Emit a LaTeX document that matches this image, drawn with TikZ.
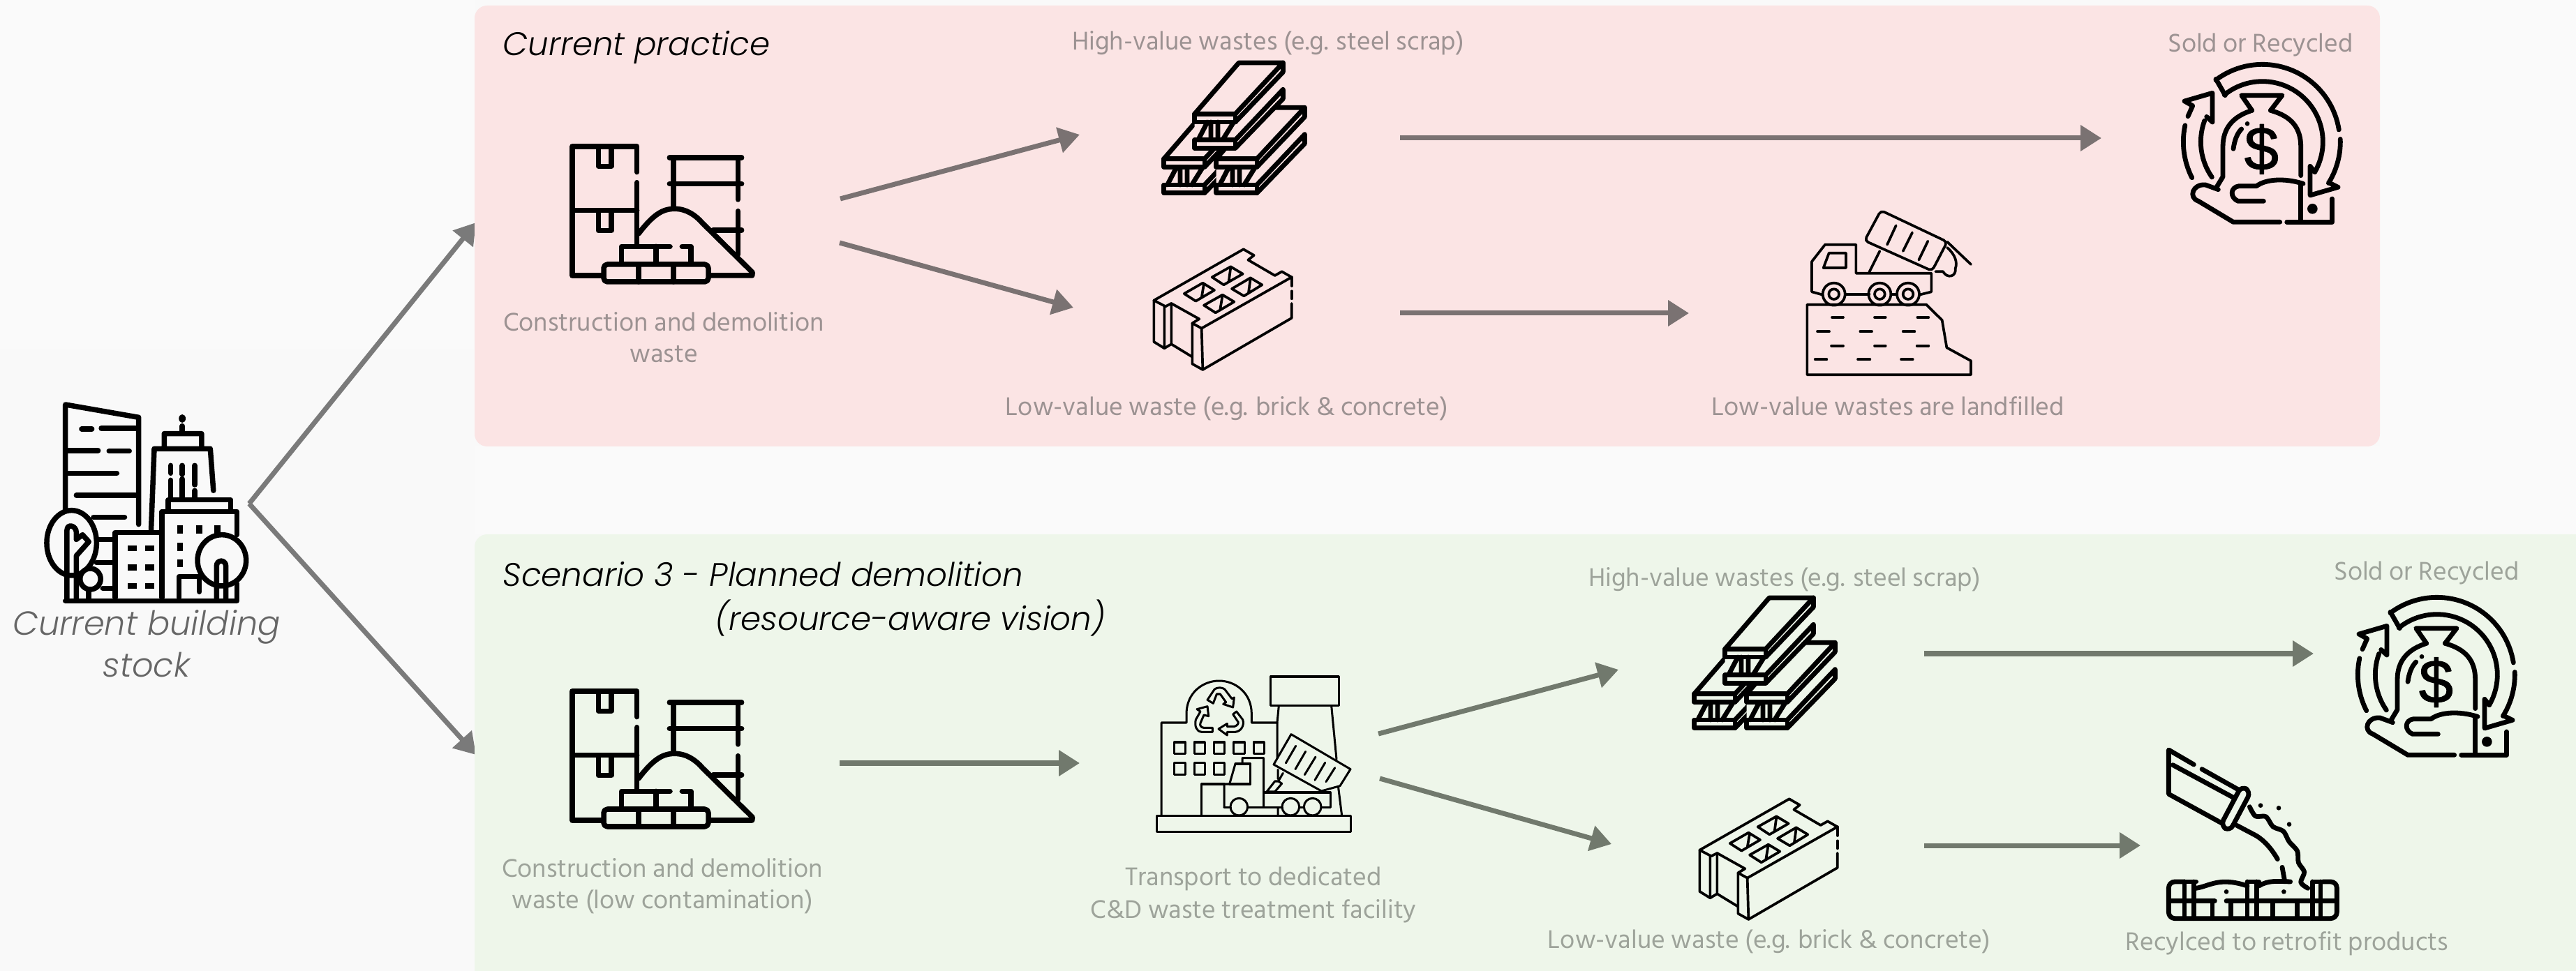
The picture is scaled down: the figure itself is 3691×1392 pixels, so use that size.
\documentclass[tikz,border=0pt]{standalone}
\usepackage{fontspec}
\usetikzlibrary{arrows.meta}
\setmainfont{Hind Siliguri}
\newfontfamily\popfont{Poppins}[UprightFont=* Light,ItalicFont=* Light Italic]
\newfontfamily\dollarfont{Liberation Sans}[FakeBold=1.5]
\definecolor{bgc}{HTML}{F9F9F9}
\definecolor{pinkc}{HTML}{FBE4E4}
\definecolor{greenc}{HTML}{EEF6EA}
\definecolor{arrowp}{HTML}{7A7272}
\definecolor{arrowg}{HTML}{71796D}
\definecolor{textp}{HTML}{9C9292}
\definecolor{textg}{HTML}{9DA39A}
\tikzset{
 lab/.style={font=\fontsize{10.7pt}{12pt}\selectfont,inner sep=0pt,anchor=base},
 labp/.style={lab,text=textp},
 labg/.style={lab,text=textg},
 title/.style={font=\popfont\itshape\fontsize{13.3pt}{16pt}\selectfont,inner sep=0pt,anchor=base west,text=black},
 stocklab/.style={font=\popfont\itshape\fontsize{13.6pt}{17pt}\selectfont,inner sep=0pt,anchor=base,text=black!60},
 flow/.style={line width=0.07cm,-{Triangle[length=0.3cm,width=0.36cm]}},
 ico/.style={line cap=round,line join=round,draw=black},
 w7/.style={ico,line width=0.075cm},
 w6/.style={ico,line width=0.068cm},
 w4/.style={ico,line width=0.037cm},
 w3/.style={ico,line width=0.03cm},
}
\newcommand{\iconcdw}[2]{\begin{scope}[shift={(#1,#2)},xscale=1/3,yscale=1/3,w7]
 \draw (398,200)--(398,90)--(120,90)--(120,645)--(255,645);
 \draw (398,245)--(398,515);
 \draw (120,365)--(398,365);
 \draw (232,95)--(232,175)--(288,175)--(288,95);
 \draw (232,370)--(232,452)--(288,452)--(288,370);
 \draw (538,138)--(848,138) (538,250)--(848,250);
 \draw (555,138)--(555,355) (832,138)--(832,318) (832,368)--(832,555) (725,450)--(848,450);
 \draw (405,465) .. controls (470,380) and (510,358) .. (560,358) .. controls (610,358) and (650,385) .. (680,420) -- (895,632) -- (893,645) -- (710,645);
 \draw[rounded corners=1.5pt] (255,597) rectangle (705,672);
 \draw (405,597)--(405,672) (555,597)--(555,672);
 \draw (332,590)--(332,520)--(540,520) (592,520)--(630,520)--(630,590) (480,520)--(480,590);
\end{scope}}
\newcommand{\ibeam}[3]{\begin{scope}[shift={(#1,#2)}]
 \fill[#3] (0,0)--(190,-220)--(380,-220)--(380,-65)--(175,147)--(0,147)--cycle;
 \draw (0,0)--(190,-220)--(380,-220)--(175,0)--cycle;
 \draw (0,0)--(175,0)--(175,35)--(0,35)--cycle;
 \draw (175,35)--(380,-180)--(380,-220);
 \draw (0,112)--(175,112)--(175,147)--(0,147)--cycle;
 \draw (175,147)--(380,-65)--(380,-105)--(175,112);
 \draw (70,35)--(70,112) (100,35)--(100,112) (15,112)--(55,35) (120,112)--(165,40);
\end{scope}}
\newcommand{\iconbeams}[3]{\begin{scope}[shift={(#1,#2)},xscale=1/3,yscale=1/3,w6]
 \ibeam{143}{503}{#3}\ibeam{368}{503}{#3}\ibeam{275}{310}{#3}
\end{scope}}
\newcommand{\iconblock}[2]{\begin{scope}[shift={(#1,#2)},xscale=1/3,yscale=1/3,w4]
 \draw (100,272)--(485,52)--(530,78)--(505,98)--(620,165)--(650,148)--(692,172)--(305,392)--(265,370)--(295,352)--(175,285)--(150,298)--cycle;
 \draw (230,243)--(310,197)--(360,228)--(280,275)--cycle (315,200)--(305,260);
 \draw (350,172)--(430,127)--(482,158)--(400,205)--cycle (430,130)--(422,190);
 \draw (315,293)--(395,248)--(445,278)--(365,325)--cycle (395,250)--(385,310);
 \draw (435,222)--(515,175)--(565,205)--(487,253)--cycle (515,178)--(507,238);
 \draw (692,172)--(692,210) (692,232)--(692,265);
 \draw (692,285)--(692,348)--(310,570)--(265,545)--(265,370) (305,392)--(310,570);
 \draw (100,272)--(100,450)--(145,478)--(175,460)--(175,285) (145,298)--(145,478) (175,460)--(265,515);
\end{scope}}
\newcommand{\iconmoney}[3]{\begin{scope}[shift={(#1,#2)},xscale=1/3,yscale=1/3,w6]
 \draw plot[domain=-127:-9,samples=40] ({425+333*cos(\x)},{400+333*sin(\x)});
 \draw (225,130)--(265,200);
 \draw plot[domain=-129:30,samples=40] ({425+260*cos(\x)},{400+260*sin(\x)});
 \draw plot[domain=-2:32,samples=15] ({425+335*cos(\x)},{400+335*sin(\x)});
 \draw (650,530)--(630,505)--(630,630)--(750,595)--(715,578);
 \draw plot[domain=153:192,samples=15] ({425+340*cos(\x)},{400+340*sin(\x)});
 \draw plot[domain=145:200,samples=15] ({425+265*cos(\x)},{400+265*sin(\x)});
 \draw (185,292)--(210,315)--(210,190)--(90,225)--(125,245)--(105,290);
 \draw (380,265)--(335,200)--(510,200)--(460,265);
 \draw (380,265) .. controls (300,290) and (255,340) .. (255,420) -- (255,550) -- (225,600);
 \draw (460,265) .. controls (550,290) and (590,340) .. (590,420) -- (590,545);
 \draw (300,430) .. controls (305,395) and (315,365) .. (335,345);
 \fill (360,322) circle[radius=10];
 \node[inner sep=0pt,font=\dollarfont\fontsize{25pt}{25pt}\selectfont] (#3) at (421,432) {\$};
 \draw (430,655)--(320,655) .. controls (285,640) and (285,595) .. (325,590) -- (400,590) .. controls (440,560) and (520,555) .. (600,580);
 \draw (235,605)--(180,585) .. controls (125,580) and (105,640) .. (150,655) -- (300,745) -- (500,745);
 \draw (530,745)--(725,745)--(725,645) (590,580)--(590,745);
 \fill (640,688) circle[radius=22];
\end{scope}}
\begin{document}
\begin{tikzpicture}[x=0.01cm,y=-0.01cm]
\useasboundingbox (0,0) rectangle (3691,1392);
\fill[bgc] (0,0) rectangle (3691,1392);
% faint background patches
\fill[white,opacity=0.25] (0,0) rectangle (680,500);
\fill[white,opacity=0.2] (3410,0) rectangle (3691,766);
\fill[white,opacity=0.2] (680,640) rectangle (3410,766);
% fork arrows
\coordinate (fork) at (357,722);
\coordinate (forkup) at (682,319);
\coordinate (forkdn) at (682,1082);
\draw[flow,draw=black!52,fill=black!52] (fork)--(forkup);
\draw[flow,draw=black!52,fill=black!52] (fork)--(forkdn);
% panels
\fill[pinkc,rounded corners=0.18cm] (680,8) rectangle (3410,640);
\fill[greenc,rounded corners=0.18cm] (680,766) rectangle (3760,1480);
% building stock icon
\begin{scope}[shift={(0,540)},xscale=1/2.24,yscale=1/3,w7]
 \draw (445,635)--(445,175)--(210,120)--(210,590);
 \draw (262,225)--(295,225) (325,222)--(435,222) (215,318)--(315,318) (350,320)--(415,320) (215,415)--(375,415) (245,510)--(435,510) (300,605)--(400,605);
 \fill (585,180) ellipse[x radius=11,y radius=18];
 \draw (585,212)--(585,240);
 \draw (527,305)--(527,245)--(647,245)--(647,305) (495,310)--(675,310) (495,310)--(485,660) (675,310)--(685,490);
 \draw (548,382)--(548,415) (585,382)--(585,420) (625,382)--(625,465) (548,445)--(548,520) (585,440)--(585,520) (625,490)--(625,520);
 \draw (540,575)--(540,530)--(740,530)--(740,575);
 \draw (520,950)--(520,580)--(760,580)--(760,680) (760,890)--(760,960);
 \foreach \xx in {578,640,698}\fill (\xx-10,640) rectangle (\xx+10,675);
 \foreach \yy in {715,785}\fill (568,\yy) rectangle (588,\yy+35);
 \draw (575,950)--(575,860)--(640,860)--(640,925);
 \draw (370,950)--(370,670)--(515,670);
 \foreach \xx in {425,480}\foreach \yy in {738,820,900}\fill (\xx-15,\yy-13) rectangle (\xx+15,\yy+13);
 \draw (310,700)--(370,700) (310,800)--(370,800) (330,910)--(370,910);
 \draw[fill=bgc] (230,715) ellipse[x radius=80,y radius=140];
 \draw (215,960)--(215,660) .. controls (215,630) and (245,640) .. (245,670)--(245,700)--(265,680)--(285,710)--(245,770)--(245,960);
 \draw[fill=bgc] (290,870) ellipse[x radius=33,y radius=45];
 \draw (285,915)--(285,955);
 \draw[fill=bgc] (712,790) ellipse[x radius=78,y radius=110];
 \draw (695,955)--(695,815) .. controls (695,785) and (725,785) .. (725,815)--(725,955);
 \draw (210,965)--(760,965);
\end{scope}
\node[stocklab] (stocka) at (210,911) {Current building};
\node[stocklab] (stockb) at (210,970) {stock};
% top row
\node[title] (t1) at (720,80) {Current practice};
\iconcdw{780}{180}
\iconbeams{1620}{60}{pinkc}
\iconblock{1620}{340}
\iconmoney{3100}{70}{dollara}
% landfill truck
\begin{scope}[shift={(2560,280)},xscale=1/3,yscale=1/3,w4]
 \draw (88,470)--(600,470)--(668,537)--(688,655)--(792,712)--(792,772)--(88,772)--cycle;
 \draw (195,525)--(243,525) (378,525)--(425,525) (562,525)--(610,525) (132,586)--(183,586) (316,586)--(366,586) (500,586)--(550,586) (192,647)--(243,647) (378,647)--(425,647) (560,647)--(610,647) (122,706)--(172,706) (306,706)--(358,706) (492,706)--(542,706);
 \draw (155,428)--(108,415)--(108,285)--(165,212)--(298,212)--(298,335)--(622,335)--(622,415)--(570,428);
 \draw (252,425)--(355,425) (450,425)--(475,425);
 \foreach \xx in {203,400,522}{\draw (\xx,425) circle[radius=48];\draw (\xx,425) circle[radius=22];}
 \draw (182,248)--(255,248)--(255,312)--(158,312)--cycle;
 \draw[rounded corners=1.5pt] (405,65)--(690,200)--(625,325)--(335,195)--cycle;
 \draw (470,130)--(432,212) (540,160)--(500,240) (607,197)--(568,278);
 \draw (400,240)--(355,330);
 \draw (690,200)--(792,297);
 \draw (640,328)--(672,328) .. controls (690,360) and (730,350) .. (725,315) .. controls (735,290) and (725,255) .. (690,225);
\end{scope}
% top labels
\node[labp] (l1) at (1817,72) {High-value wastes (e.g. steel scrap)};
\node[labp] (l2) at (3239,75) {Sold or Recycled};
\node[labp] (l3) at (951,475) {Construction and demolition};
\node[labp] (l4) at (951,520) {waste};
\node[labp] (l5) at (1758,596) {Low-value waste (e.g. brick \& concrete)};
\node[labp] (l6) at (2705,596) {Low-value wastes are landfilled};
% top arrows
\coordinate (a1s) at (1204,285); \coordinate (a1e) at (1547,193);
\coordinate (a2s) at (1203,348); \coordinate (a2e) at (1538,441);
\coordinate (a3s) at (2006,198); \coordinate (a3e) at (3011,198);
\coordinate (a4s) at (2006,449); \coordinate (a4e) at (2420,449);
\draw[flow,draw=arrowp,fill=arrowp] (a1s)--(a1e);
\draw[flow,draw=arrowp,fill=arrowp] (a2s)--(a2e);
\draw[flow,draw=arrowp,fill=arrowp] (a3s)--(a3e);
\draw[flow,draw=arrowp,fill=arrowp] (a4s)--(a4e);
% bottom row
\node[title] (t2) at (720,841) {Scenario 3 - Planned demolition};
\node[title] (t3) at (1024,904) {(resource-aware vision)};
\iconcdw{780}{961}
\iconbeams{2380}{827}{greenc}
\iconblock{2402}{1128}
\iconmoney{3350}{834}{dollarb}
% facility
\begin{scope}[shift={(1630,950)},xscale=1/3,yscale=1/3,w3]
 \draw (82,658) rectangle (915,728);
 \draw (102,658)--(102,258)--(210,258)--(210,220) .. controls (210,130) and (280,78) .. (350,78) .. controls (420,78) and (490,130) .. (490,220)--(490,258)--(600,258)--(600,415) (603,460)--(603,500) (603,625)--(603,658);
 \draw (572,60) rectangle (865,185);
 \draw (607,185)--(600,258) (833,185)--(855,415) (862,530)--(878,658);
 \foreach \xx in {158,243,328,413,498}\draw (\xx,342) rectangle (\xx+46,392);
 \foreach \xx in {158,243,328}\draw (\xx,430) rectangle (\xx+46,482);
 \draw (275,658)--(275,522)--(372,522);
 \draw (372,622)--(372,522)--(395,522)--(420,435)--(450,435)--(450,410)--(542,410)--(542,620);
 \draw (395,522)--(485,522)--(485,435)--(420,435);
 \draw (372,622)--(400,622) (472,622)--(622,622) (695,622)--(715,622) (790,622)--(828,622)--(828,558)--(542,558);
 \foreach \xx in {436,658,752}\draw (\xx,620) circle[radius=37];
 \draw[fill=greenc] (660,308)--(915,458)--(870,530)--(790,552)--(585,438)--cycle;
 \draw (680,358)--(637,432) (722,382)--(678,458) (765,405)--(718,482) (806,430)--(762,505) (848,452)--(810,512);
 \draw (605,510)--(620,520)--(590,555)--(555,555)--(590,510)--(605,510) (605,510)--(625,475);
 \draw (300,160)--(330,115) .. controls (340,105) and (365,105) .. (375,115)--(405,155)--(415,150)--(410,192)--(368,178)--(380,170)--(355,135)--(340,135)--(325,175)--cycle;
 \draw (255,200)--(300,188)--(305,230)--(285,225)--(270,260) .. controls (265,270) and (275,280) .. (285,280)--(322,280)--(322,298)--(275,298) .. controls (250,295) and (245,270) .. (250,245)--(270,210)--cycle;
 \draw (425,210)--(452,245) .. controls (460,270) and (445,295) .. (420,298)--(385,298)--(385,312)--(348,285)--(385,262)--(385,275)--(415,275) .. controls (430,270) and (435,260) .. (432,255)--(410,222)--cycle;
\end{scope}
% pour
\begin{scope}[shift={(3080,1060)},xscale=1/3,yscale=1/3,w6]
 \draw (190,108)--(82,45)--(82,235)--(310,360);
 \draw (100,110)--(360,250) (225,128)--(385,218);
 \draw[rounded corners=2.5pt] (395,200)--(435,225)--(345,395)--(305,370)--cycle;
 \draw plot[smooth] coordinates {(430,290) (455,330) (500,332) (530,375) (575,395) (600,440) (635,480) (640,530) (665,570) (650,615) (680,640)};
 \draw (375,370)--(460,415) .. controls (500,440) and (530,480) .. (550,515);
 \draw (570,550)--(580,605);
 \foreach \px/\py in {477/284,555/295,600/365,330/655,577/655}\fill (\px,\py) circle[radius=10];
 \draw[rounded corners=2.5pt] (150,612)--(82,612)--(82,770)--(805,770)--(805,612)--(745,612);
 \draw (150,612)--(200,612) (150,612)--(150,770) (190,612)--(190,770);
 \draw (420,612)--(470,612) (420,612)--(420,770) (460,612)--(460,770);
 \draw (700,612)--(745,612) (700,612)--(700,770) (735,612)--(735,770);
 \draw (82,695)--(280,695) (330,695)--(805,695);
 \draw (270,695)--(270,770) (350,695)--(350,770) (530,695)--(530,770) (635,695)--(635,770);
 \draw (200,640) .. controls (260,630) and (300,590) .. (420,630);
 \draw (470,630) .. controls (510,605) and (550,610) .. (605,612);
\end{scope}
% bottom labels
\node[labg] (m1) at (2557,841) {High-value wastes (e.g. steel scrap)};
\node[labg] (m2) at (3477,832) {Sold or Recycled};
\node[labg] (m3) at (949,1257) {Construction and demolition};
\node[labg] (m4) at (949,1302) {waste (low contamination)};
\node[labg] (m5) at (1796,1269) {Transport to dedicated};
\node[labg] (m6) at (1796,1316) {C\&D waste treatment facility};
\node[labg] (m7) at (2535,1359) {Low-value waste (e.g. brick \& concrete)};
\node[labg] (m8) at (3277,1362) {Recylced to retrofit products};
% bottom arrows
\coordinate (b1s) at (1203,1094); \coordinate (b1e) at (1547,1094);
\coordinate (b2s) at (1975,1052); \coordinate (b2e) at (2319,960);
\coordinate (b3s) at (1977,1116); \coordinate (b3e) at (2309,1210);
\coordinate (b4s) at (2757,937); \coordinate (b4e) at (3315,937);
\coordinate (b5s) at (2757,1212); \coordinate (b5e) at (3067,1212);
\draw[flow,draw=arrowg,fill=arrowg] (b1s)--(b1e);
\draw[flow,draw=arrowg,fill=arrowg] (b2s)--(b2e);
\draw[flow,draw=arrowg,fill=arrowg] (b3s)--(b3e);
\draw[flow,draw=arrowg,fill=arrowg] (b4s)--(b4e);
\draw[flow,draw=arrowg,fill=arrowg] (b5s)--(b5e);
\end{tikzpicture}
\end{document}
